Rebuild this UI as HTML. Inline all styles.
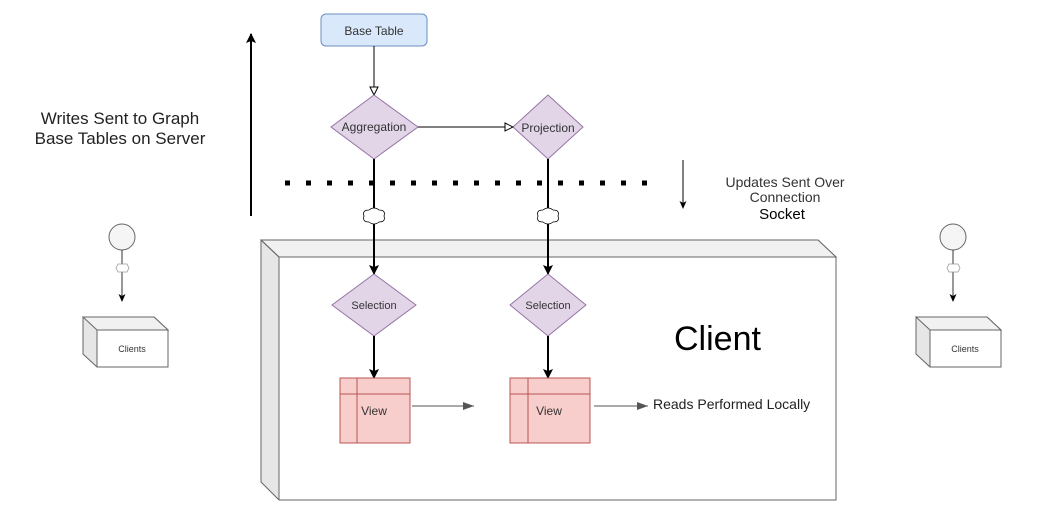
<!DOCTYPE html>
<html><head><style>body{margin:0;background:#fff}svg{display:block}</style></head><body>
<svg width="1047" height="525" viewBox="0 0 1047 525" xmlns="http://www.w3.org/2000/svg" font-family="Liberation Sans, Arial, sans-serif">
<defs>
<marker id="open" markerWidth="10" markerHeight="10" refX="9" refY="5" orient="auto" markerUnits="userSpaceOnUse"><path d="M1,1 L9,5 L1,9 Z" fill="#fff" stroke="#000"/></marker>
<marker id="solid" markerWidth="12" markerHeight="12" refX="10" refY="6" orient="auto" markerUnits="userSpaceOnUse"><path d="M1,1 L11,6 L1,11 L3,6 Z" fill="#000"/></marker>
<marker id="sm" markerWidth="8" markerHeight="8" refX="7" refY="4" orient="auto" markerUnits="userSpaceOnUse"><path d="M0,0.5 L8,4 L0,7.5 L2,4 Z" fill="#000"/></marker>
<marker id="grey" markerWidth="12" markerHeight="10" refX="11" refY="5" orient="auto" markerUnits="userSpaceOnUse"><path d="M0,1 L11,5 L0,9 Z" fill="#555"/></marker>
</defs>
<polygon points="261,240 818,240 836,257 836,500 279,500 261,482" fill="#e6e6e6" stroke="#666"/>
<polygon points="261,240 818,240 836,257 279,257" fill="#f1f1f1" stroke="#666"/>
<rect x="279" y="257" width="557" height="243" fill="#fff" stroke="#666"/>
<line x1="261" y1="240" x2="279" y2="257" stroke="#666"/>
<text x="674" y="350" font-size="34" fill="#000">Client</text>

<line x1="251" y1="216" x2="251" y2="34" stroke="#000" stroke-width="2" marker-end="url(#solid)"/>
<text x="120" y="124" font-size="17" text-anchor="middle" fill="#222">Writes Sent to Graph</text>
<text x="120" y="144" font-size="17" text-anchor="middle" fill="#222">Base Tables on Server</text>
<line x1="683" y1="160" x2="683" y2="208" stroke="#000" stroke-width="1" marker-end="url(#sm)"/>
<text x="785" y="187" font-size="14" text-anchor="middle" fill="#333">Updates Sent Over</text>
<text x="785" y="202" font-size="14" text-anchor="middle" fill="#333">Connection</text>
<text x="782" y="219" font-size="15" text-anchor="middle" fill="#000">Socket</text>

<line x1="285" y1="183" x2="652" y2="183" stroke="#000" stroke-width="5" stroke-dasharray="5,16"/>

<rect x="321" y="14" width="106" height="32" rx="5" fill="#dae8fc" stroke="#6c8ebf"/>
<text x="374" y="35" font-size="12" text-anchor="middle" fill="#333">Base Table</text>
<line x1="374" y1="46" x2="374" y2="95" stroke="#000" marker-end="url(#open)"/>

<polygon points="374,95 418,127 374,159 331,127" fill="#e1d5e7" stroke="#9673a6"/>
<text x="374" y="131" font-size="12" text-anchor="middle" fill="#333">Aggregation</text>
<polygon points="548,95 583,127 548,159 513,127" fill="#e1d5e7" stroke="#9673a6"/>
<text x="548" y="132" font-size="12" text-anchor="middle" fill="#333">Projection</text>
<line x1="418" y1="127" x2="513" y2="127" stroke="#000" marker-end="url(#open)"/>

<line x1="374" y1="159" x2="374" y2="274" stroke="#000" stroke-width="2" marker-end="url(#solid)"/>
<line x1="548" y1="159" x2="548" y2="274" stroke="#000" stroke-width="2" marker-end="url(#solid)"/>
<path d="M364,216 q-2,-6 5,-6 q5,-4 10,0 q7,0 5,6 q2,6 -5,6 q-5,4 -10,0 q-7,0 -5,-6z" fill="#fff" stroke="#000" stroke-width="0.8"/>
<path d="M538,216 q-2,-6 5,-6 q5,-4 10,0 q7,0 5,6 q2,6 -5,6 q-5,4 -10,0 q-7,0 -5,-6z" fill="#fff" stroke="#000" stroke-width="0.8"/>

<polygon points="374,274 416,305 374,336 332,305" fill="#e1d5e7" stroke="#9673a6"/>
<text x="374" y="309" font-size="11" text-anchor="middle" fill="#333">Selection</text>
<polygon points="548,274 586,305 548,336 510,305" fill="#e1d5e7" stroke="#9673a6"/>
<text x="548" y="309" font-size="11" text-anchor="middle" fill="#333">Selection</text>
<line x1="374" y1="336" x2="374" y2="378" stroke="#000" stroke-width="2" marker-end="url(#solid)"/>
<line x1="548" y1="336" x2="548" y2="378" stroke="#000" stroke-width="2" marker-end="url(#solid)"/>

<rect x="340" y="378" width="70" height="65" fill="#f8cecc" stroke="#b85450"/>
<line x1="357" y1="378" x2="357" y2="443" stroke="#b85450"/>
<line x1="340" y1="394" x2="410" y2="394" stroke="#b85450"/>
<text x="374" y="415" font-size="12" text-anchor="middle" fill="#333">View</text>
<rect x="510" y="378" width="80" height="65" fill="#f8cecc" stroke="#b85450"/>
<line x1="528" y1="378" x2="528" y2="443" stroke="#b85450"/>
<line x1="510" y1="394" x2="590" y2="394" stroke="#b85450"/>
<text x="549" y="415" font-size="12" text-anchor="middle" fill="#333">View</text>
<line x1="412" y1="406" x2="474" y2="406" stroke="#555" marker-end="url(#grey)"/>
<line x1="594" y1="406" x2="648" y2="406" stroke="#555" marker-end="url(#grey)"/>
<text x="653" y="409" font-size="14" fill="#222">Reads Performed Locally</text>

<circle cx="122" cy="237" r="13" fill="#f5f5f5" stroke="#666"/>
<line x1="122" y1="250" x2="122" y2="301" stroke="#333" marker-end="url(#sm)"/>
<path d="M116,268 l2,-4 h9 l2,4 l-2,4 h-9z" fill="#fff" stroke="#999" stroke-width="0.8"/>
<polygon points="83,317 154,317 168,330 168,367 97,367 83,354" fill="#e6e6e6" stroke="#666"/>
<polygon points="83,317 154,317 168,330 97,330" fill="#f1f1f1" stroke="#666"/>
<rect x="97" y="330" width="71" height="37" fill="#fff" stroke="#666"/>
<text x="132" y="352" font-size="9" text-anchor="middle" fill="#333">Clients</text>

<circle cx="953" cy="237" r="13" fill="#f5f5f5" stroke="#666"/>
<line x1="953" y1="250" x2="953" y2="301" stroke="#333" marker-end="url(#sm)"/>
<path d="M947,268 l2,-4 h9 l2,4 l-2,4 h-9z" fill="#fff" stroke="#999" stroke-width="0.8"/>
<polygon points="916,317 987,317 1001,330 1001,367 930,367 916,354" fill="#e6e6e6" stroke="#666"/>
<polygon points="916,317 987,317 1001,330 930,330" fill="#f1f1f1" stroke="#666"/>
<rect x="930" y="330" width="71" height="37" fill="#fff" stroke="#666"/>
<text x="965" y="352" font-size="9" text-anchor="middle" fill="#333">Clients</text>
</svg>
</body></html>
